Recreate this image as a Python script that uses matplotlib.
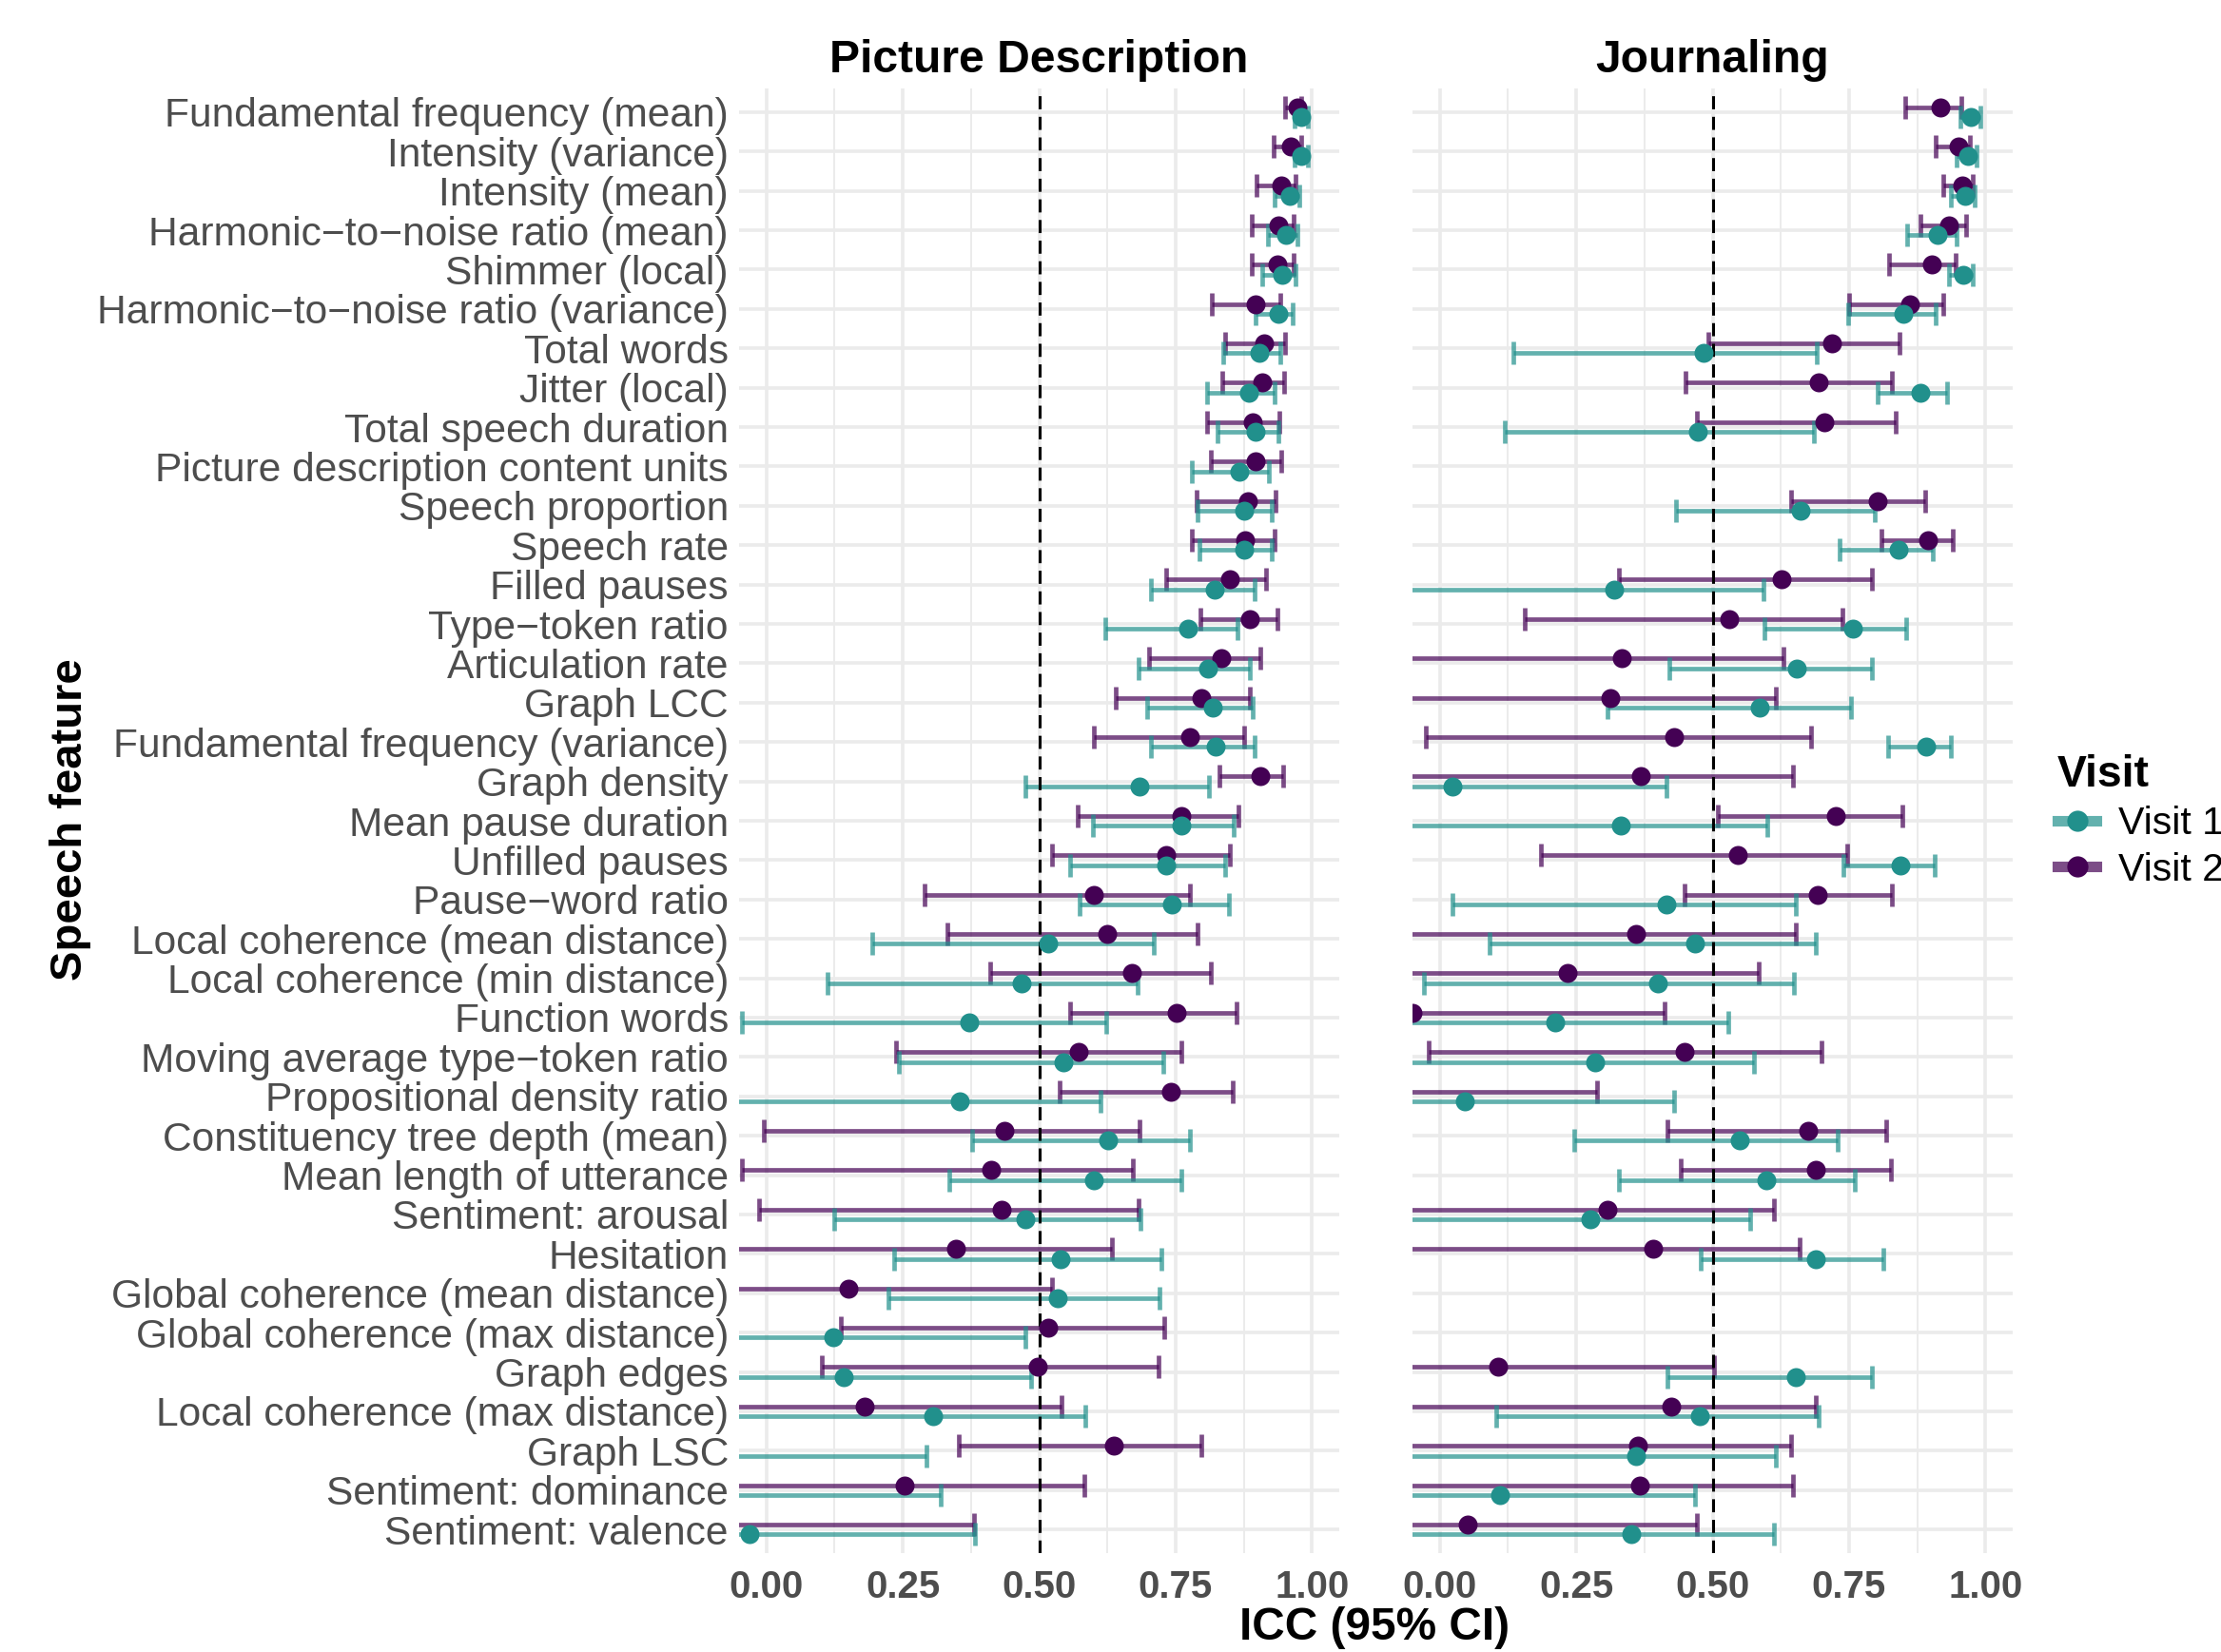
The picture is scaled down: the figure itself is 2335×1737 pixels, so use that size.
import numpy as np
import matplotlib
matplotlib.use("Agg")
import matplotlib.pyplot as plt
from matplotlib.lines import Line2D

plt.rcParams['font.family'] = ['Liberation Sans', 'DejaVu Sans']

M = "\u2212"
features = [
    "Fundamental frequency (mean)", "Intensity (variance)", "Intensity (mean)",
    f"Harmonic{M}to{M}noise ratio (mean)", "Shimmer (local)",
    f"Harmonic{M}to{M}noise ratio (variance)", "Total words", "Jitter (local)",
    "Total speech duration", "Picture description content units",
    "Speech proportion", "Speech rate", "Filled pauses", f"Type{M}token ratio",
    "Articulation rate", "Graph LCC", "Fundamental frequency (variance)",
    "Graph density", "Mean pause duration", "Unfilled pauses",
    f"Pause{M}word ratio", "Local coherence (mean distance)",
    "Local coherence (min distance)", "Function words",
    f"Moving average type{M}token ratio", "Propositional density ratio",
    "Constituency tree depth (mean)", "Mean length of utterance",
    "Sentiment: arousal", "Hesitation", "Global coherence (mean distance)",
    "Global coherence (max distance)", "Graph edges",
    "Local coherence (max distance)", "Graph LSC", "Sentiment: dominance",
    "Sentiment: valence",
]
nan = np.nan

# Picture Description, Visit 1
pd_v1 = [0.980, 0.981, 0.959, 0.952, 0.946, 0.938, 0.903, 0.885, 0.896, 0.867,
         0.875, 0.876, 0.822, 0.773, 0.809, 0.819, 0.824, 0.684, 0.760, 0.733,
         0.744, 0.516, 0.467, 0.371, 0.545, 0.354, 0.626, 0.601, 0.475, 0.540,
         0.534, 0.123, 0.141, 0.305, -0.12, -0.08, -0.030]
pd_v1_lo = [0.968, 0.968, 0.932, 0.920, 0.909, 0.896, 0.837, 0.808, 0.826, 0.780,
            0.791, 0.793, 0.704, 0.622, 0.682, 0.698, 0.705, 0.474, 0.599, 0.556,
            0.574, 0.194, 0.112, -0.045, 0.243, -0.12, 0.377, 0.336, 0.124, 0.234,
            0.223, -0.25, -0.22, -0.10, -0.45, -0.40, -0.40]
pd_v1_hi = [0.992, 0.993, 0.977, 0.973, 0.969, 0.964, 0.942, 0.931, 0.939, 0.921,
            0.926, 0.927, 0.894, 0.864, 0.886, 0.892, 0.894, 0.811, 0.856, 0.840,
            0.847, 0.710, 0.680, 0.623, 0.728, 0.612, 0.776, 0.761, 0.685, 0.724,
            0.720, 0.475, 0.486, 0.584, 0.293, 0.319, 0.382]

# Picture Description, Visit 2
pd_v2 = [0.973, 0.961, 0.943, 0.938, 0.937, 0.897, 0.912, 0.909, 0.892, 0.896,
         0.882, 0.877, 0.850, 0.886, 0.833, 0.798, 0.777, 0.906, 0.760, 0.733,
         0.601, 0.625, 0.670, 0.752, 0.572, 0.741, 0.437, 0.412, 0.432, 0.347,
         0.151, 0.516, 0.497, 0.180, 0.637, 0.254, -0.10]
pd_v2_lo = [0.951, 0.930, 0.899, 0.889, 0.889, 0.816, 0.840, 0.836, 0.808, 0.815,
            0.789, 0.780, 0.733, 0.796, 0.701, 0.640, 0.601, 0.831, 0.571, 0.523,
            0.290, 0.331, 0.411, 0.557, 0.237, 0.538, -0.005, -0.045, -0.014, -0.15,
            -0.25, 0.136, 0.102, -0.20, 0.352, -0.10, -0.50]
pd_v2_hi = [0.980, 0.980, 0.970, 0.966, 0.966, 0.942, 0.951, 0.949, 0.940, 0.943,
            0.934, 0.931, 0.916, 0.936, 0.906, 0.887, 0.875, 0.948, 0.866, 0.850,
            0.777, 0.790, 0.815, 0.861, 0.761, 0.855, 0.684, 0.671, 0.682, 0.634,
            0.524, 0.729, 0.718, 0.541, 0.797, 0.582, 0.380]

# Journaling, Visit 1
jn_v1 = [0.973, 0.968, 0.962, 0.913, 0.959, 0.850, 0.483, 0.881, 0.473, nan,
         0.661, 0.840, 0.320, 0.758, 0.654, 0.587, 0.892, 0.024, 0.331, 0.844,
         0.416, 0.468, 0.399, 0.212, 0.284, 0.046, 0.549, 0.599, 0.276, 0.689,
         nan, nan, 0.652, 0.476, 0.360, 0.110, 0.351]
jn_v1_lo = [0.954, 0.948, 0.937, 0.856, 0.933, 0.749, 0.135, 0.802, 0.119, nan,
            0.433, 0.733, -0.10, 0.595, 0.420, 0.308, 0.821, -0.30, -0.08, 0.740,
            0.024, 0.091, -0.029, -0.15, -0.10, -0.35, 0.246, 0.328, -0.10, 0.478,
            nan, nan, 0.418, 0.103, -0.10, -0.30, -0.10]
jn_v1_hi = [0.990, 0.983, 0.981, 0.948, 0.977, 0.909, 0.691, 0.929, 0.686, nan,
            0.797, 0.904, 0.594, 0.855, 0.792, 0.753, 0.936, 0.416, 0.601, 0.907,
            0.652, 0.690, 0.649, 0.529, 0.575, 0.430, 0.730, 0.760, 0.568, 0.813,
            nan, nan, 0.792, 0.694, 0.616, 0.468, 0.612]

# Journaling, Visit 2
jn_v2 = [0.918, 0.950, 0.957, 0.934, 0.901, 0.861, 0.718, 0.694, 0.705, nan,
         0.802, 0.894, 0.626, 0.530, 0.334, 0.312, 0.429, 0.368, 0.726, 0.546,
         0.692, 0.359, 0.235, -0.05, 0.448, -0.15, 0.675, 0.689, 0.307, 0.391,
         nan, nan, 0.107, 0.425, 0.363, 0.367, 0.051]
jn_v2_lo = [0.853, 0.909, 0.923, 0.881, 0.823, 0.751, 0.493, 0.451, 0.471, nan,
            0.644, 0.810, 0.328, 0.156, -0.08, -0.10, -0.026, -0.10, 0.509, 0.185,
            0.448, -0.10, -0.15, -0.40, -0.020, -0.50, 0.417, 0.441, -0.10, -0.10,
            nan, nan, -0.30, -0.10, -0.10, -0.10, -0.40]
jn_v2_hi = [0.955, 0.972, 0.977, 0.965, 0.945, 0.923, 0.843, 0.828, 0.836, nan,
            0.890, 0.941, 0.792, 0.738, 0.630, 0.616, 0.681, 0.648, 0.848, 0.747,
            0.828, 0.652, 0.585, 0.412, 0.700, 0.289, 0.819, 0.826, 0.613, 0.660,
            nan, nan, 0.502, 0.689, 0.644, 0.647, 0.471]

panels = [
    ("Picture Description", (pd_v1, pd_v1_lo, pd_v1_hi), (pd_v2, pd_v2_lo, pd_v2_hi)),
    ("Journaling", (jn_v1, jn_v1_lo, jn_v1_hi), (jn_v2, jn_v2_lo, jn_v2_hi)),
]

TEAL = "#21908C"
PURPLE = "#440154"
GRID = "#EBEBEB"
TXT = "#4D4D4D"

W, H = 2335, 1737
fig = plt.figure(figsize=(W / 200, H / 200), dpi=200)
bottom = 1 - 1633 / H
height = (1633 - 93) / H
ax_l = fig.add_axes([777 / W, bottom, 631 / W, height])
ax_r = fig.add_axes([1485 / W, bottom, 631 / W, height])

rows = np.arange(len(features))
dodge = 0.125

for ax, (title, v1, v2) in zip([ax_l, ax_r], panels):
    ax.set_axisbelow(True)
    ax.set_xlim(-0.05, 1.05)
    ax.set_ylim(len(features) - 0.4, -0.6)
    ax.set_xticks([0, 0.25, 0.5, 0.75, 1.0])
    ax.set_xticks([0.125, 0.375, 0.625, 0.875], minor=True)
    ax.set_xticklabels(["0.00", "0.25", "0.50", "0.75", "1.00"])
    ax.set_yticks(rows)
    ax.grid(True, which="major", color=GRID, lw=1.3)
    ax.grid(True, which="minor", axis="x", color=GRID, lw=0.7)
    for s in ax.spines.values():
        s.set_visible(False)
    ax.tick_params(axis="both", which="both", length=0)
    ax.tick_params(axis="x", labelsize=14.5, labelcolor=TXT, pad=6)
    for lab in ax.get_xticklabels():
        lab.set_fontweight("bold")
    ax.set_title(title, fontsize=17.3, fontweight="bold", pad=6)

    for (val, lo, hi), col, off in [(v2, PURPLE, -dodge), (v1, TEAL, dodge)]:
        val = np.array(val, dtype=float)
        lo = np.array(lo, dtype=float)
        hi = np.array(hi, dtype=float)
        ax.errorbar(val, rows + off, xerr=[val - lo, hi - val], fmt="none",
                    ecolor=col, elinewidth=1.7, capsize=4.3, capthick=1.7,
                    alpha=0.7, zorder=2)
    ax.axvline(0.5, color="black", lw=1.1, dashes=(4.5, 2.6), zorder=2.5)
    for (val, lo, hi), col, off in [(v2, PURPLE, -dodge), (v1, TEAL, dodge)]:
        ax.plot(val, rows + off, "o", color=col, ms=7.2, mew=0, zorder=3)

ax_l.set_yticklabels(features, fontsize=15.3, color=TXT)
ax_l.tick_params(axis="y", pad=4)
ax_r.set_yticklabels([])

fig.text(1445 / W, 1 - 1712 / H, "ICC (95% CI)", ha="center", va="center",
         fontsize=17.2, fontweight="bold")
fig.text(74 / W, 1 - 862 / H, "Speech feature", ha="center", va="center",
         rotation=90, fontsize=17, fontweight="bold")

handles = [
    Line2D([0], [0], color=(0.129, 0.565, 0.549, 0.7), lw=4, marker="o", ms=8,
           markerfacecolor=TEAL, markeredgewidth=0),
    Line2D([0], [0], color=(0.267, 0.004, 0.329, 0.7), lw=4, marker="o", ms=8,
           markerfacecolor=PURPLE, markeredgewidth=0),
]
leg = fig.legend(handles, ["Visit 1", "Visit 2"], title="Visit",
                 loc="center left", bbox_to_anchor=(2163 / W, 0.503),
                 frameon=False, fontsize=14.8,
                 title_fontproperties={"weight": "bold", "size": 16.7},
                 handlelength=1.0, handletextpad=0.55, labelspacing=0.25,
                 borderpad=0, borderaxespad=0)
leg._legend_box.align = "left"

fig.savefig("out.png", dpi=200)
